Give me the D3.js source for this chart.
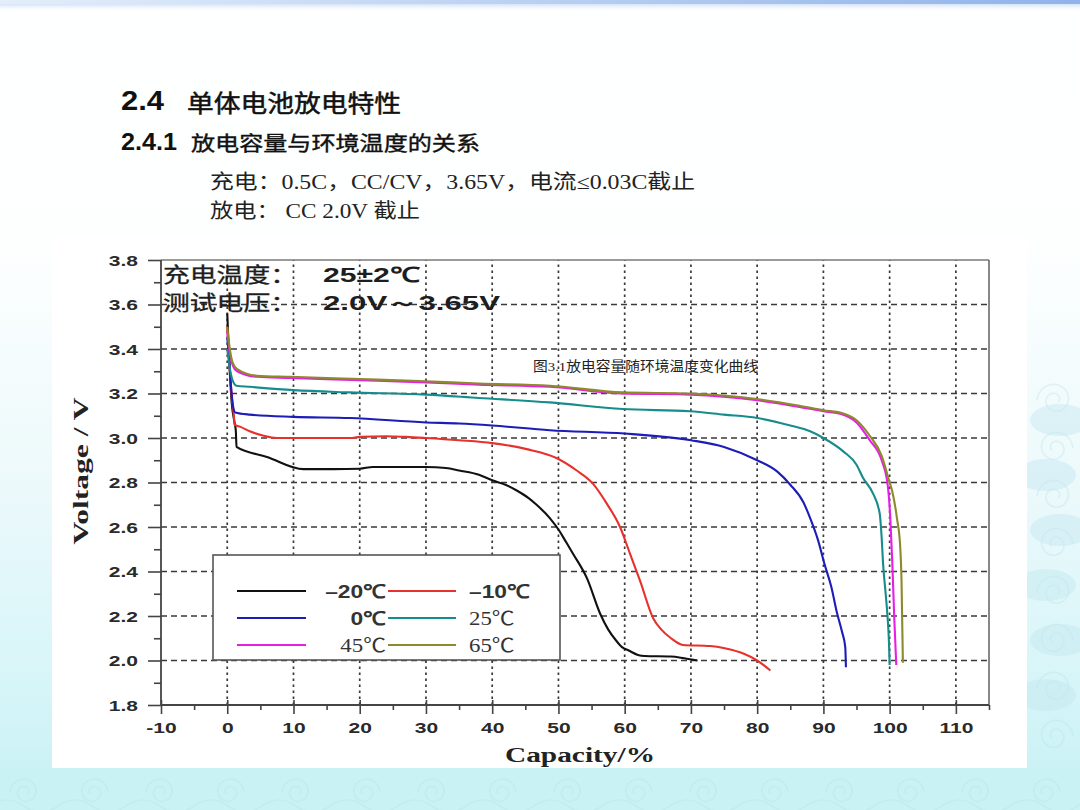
<!DOCTYPE html>
<html>
<head>
<meta charset="utf-8">
<script src="https://cdn.jsdelivr.net/npm/d3@7"></script>
<style>
  body { margin: 0; background: #fff; }
  svg { display: block; }
</style>
</head>
<body>
<svg id="slide" width="1080" height="810"></svg>
<script>
// ---- data ----
var temps = ["–20℃", "–10℃", "0℃", "25℃", "45℃", "65℃"];
var lineColors = ["#111111", "#e8312c", "#1c1cb8", "#178c8c", "#e61ee6", "#8c8a2a"];

// [capacity %, voltage V]
var curveM20 = [[0,3.56],[0.3,3.35],[0.7,3.15],[1.1,3.07],[1.3,3.03],[1.4,2.96],[6,2.915],[11.5,2.86],[16,2.86],[20,2.862],
  [22,2.87],[26,2.87],[30,2.87],[33,2.865],[35,2.854],[38,2.835],[40,2.81],[42,2.79],[43.7,2.764],[45.5,2.73],[46.7,2.70],
  [48.7,2.64],[50.2,2.58],[51,2.54],[52.2,2.48],[54.3,2.37],[56.3,2.21],[57.5,2.14],[58.7,2.09],[59.6,2.06],[60.6,2.045],
  [62,2.025],[63,2.02],[67,2.018],[69,2.01],[71,2.0]];
var curveM10 = [[0,3.50],[0.3,3.35],[0.7,3.18],[1.0,3.10],[1.1,3.06],[2,3.05],[3.4,3.03],[5.5,3.01],[7.5,3.0],[12,3.0],
  [18.5,3.0],[20,3.005],[24,3.008],[27,3.005],[30,3.0],[35,2.99],[40,2.977],[45.2,2.95],[49.7,2.91],[52.7,2.855],
  [55.2,2.795],[57.3,2.705],[59.3,2.60],[60.8,2.48],[62.3,2.36],[64.3,2.19],[65.5,2.14],[67,2.10],[68.8,2.07],[72.9,2.065],
  [75.1,2.055],[78,2.03],[80,2.0],[82,1.955]];
var curve0 = [[0,3.45],[0.3,3.35],[0.6,3.22],[0.9,3.14],[1.2,3.115],[3.4,3.105],[10,3.095],[18.5,3.09],[30,3.07],[35,3.065],
  [40,3.056],[48.7,3.035],[60,3.02],[70,2.99],[75,2.96],[80,2.90],[83,2.85],[85,2.79],[87,2.71],[88,2.64],[89.2,2.54],
  [90.2,2.43],[91.2,2.33],[92,2.22],[92.8,2.13],[93.3,2.06],[93.4,1.97]];
var curve25 = [[0,3.40],[0.3,3.33],[0.8,3.26],[1.4,3.235],[3.4,3.23],[10,3.215],[18.5,3.205],[30,3.195],[38,3.18],[48.7,3.16],
  [59.7,3.13],[69.8,3.12],[75,3.105],[80,3.09],[85,3.056],[88,3.03],[90,3.0],[93,2.94],[95,2.88],[96,2.82],[97.5,2.75],
  [98.5,2.66],[98.8,2.55],[99,2.44],[99.4,2.3],[99.7,2.19],[99.9,2.08],[100,1.98]];
var curve45 = [[0,3.48],[0.3,3.40],[0.8,3.33],[1.5,3.30],[4.5,3.275],[9.5,3.27],[20,3.26],[30,3.25],[38,3.24],[48.7,3.23],
  [59.7,3.20],[70,3.195],[80,3.17],[86.4,3.14],[90,3.12],[93,3.105],[95,3.07],[97,2.99],[98.8,2.90],[99.7,2.79],
  [100.1,2.64],[100.4,2.44],[100.7,2.19],[101,1.98]];
var curve65 = [[0,3.50],[0.3,3.42],[0.8,3.34],[1.5,3.31],[4.5,3.28],[9.5,3.275],[20,3.265],[30,3.255],[38,3.245],[48.7,3.235],
  [59.7,3.205],[70,3.20],[80,3.175],[86.4,3.145],[90,3.125],[93,3.11],[95,3.08],[97,3.01],[98.8,2.92],[100,2.80],
  [100.4,2.76],[101.1,2.64],[101.6,2.51],[101.8,2.35],[102,1.99]];
var curves = [curveM20, curveM10, curve0, curve25, curve45, curve65];

var xTicks = [-10, 0, 10, 20, 30, 40, 50, 60, 70, 80, 90, 100, 110];
var xMinor = [-5, 5, 15, 25, 35, 45, 55, 65, 75, 85, 95, 105, 115];
var yTicks = [1.8, 2.0, 2.2, 2.4, 2.6, 2.8, 3.0, 3.2, 3.4, 3.6, 3.8];
var yMinor = [1.9, 2.1, 2.3, 2.5, 2.7, 2.9, 3.1, 3.3, 3.5, 3.7];

var headLine1 = ["2.4", "单体电池放电特性"];
var headLine2 = ["2.4.1", "放电容量与环境温度的关系"];
var noteLines = ["充电：0.5C，CC/CV，3.65V，电流≤0.03C截止", "放电： CC 2.0V 截止"];
var chartNotes = [["充电温度：", "25±2℃"], ["测试电压：", "2.0V～3.65V"]];
var caption = "图3.1放电容量随环境温度变化曲线";

var W = 1080, H = 810;
var SANS = "'Liberation Sans', Arial, sans-serif";
var SERIF = "'Liberation Serif', 'Times New Roman', 'Noto Sans CJK SC', serif";
var CJK = "'Noto Sans CJK SC', 'Noto Sans', sans-serif";

var svg = d3.select("#slide");
var defs = svg.append("defs");

// stretch a text horizontally by factor k (the source figure has wide glyphs)
function stretch(sel, k) {
  sel.each(function() {
    var len = this.getComputedTextLength();
    d3.select(this).attr("textLength", len * k).attr("lengthAdjust", "spacingAndGlyphs");
  });
}

// ---- slide background ----
var bg = defs.append("linearGradient").attr("id", "bgGrad")
  .attr("x1", 0).attr("y1", 0).attr("x2", 0).attr("y2", 1);
[[0, "#ffffff"], [0.3, "#fdffff"], [0.6, "#ecf9fb"], [0.85, "#d6f5f8"], [1, "#c6f0f4"]]
  .forEach(function(s) { bg.append("stop").attr("offset", s[0]).attr("stop-color", s[1]); });
svg.append("rect").attr("width", W).attr("height", H).attr("fill", "url(#bgGrad)");

var topGrad = defs.append("linearGradient").attr("id", "topGrad")
  .attr("x1", 0).attr("y1", 0).attr("x2", 1).attr("y2", 0);
topGrad.append("stop").attr("offset", 0).attr("stop-color", "#e4eefa");
topGrad.append("stop").attr("offset", 0.5).attr("stop-color", "#b9d0f2");
topGrad.append("stop").attr("offset", 1).attr("stop-color", "#8fb3ea");
svg.append("rect").attr("x", 0).attr("y", 0).attr("width", W).attr("height", 4).attr("fill", "url(#topGrad)");
var fadeGrad = defs.append("linearGradient").attr("id", "fadeGrad")
  .attr("x1", 0).attr("y1", 0).attr("x2", 0).attr("y2", 1);
fadeGrad.append("stop").attr("offset", 0).attr("stop-color", "#d4e3f7");
fadeGrad.append("stop").attr("offset", 1).attr("stop-color", "#ffffff").attr("stop-opacity", 0);
svg.append("rect").attr("x", 0).attr("y", 4).attr("width", W).attr("height", 8).attr("fill", "url(#fadeGrad)");

// bottom wave strip and soft wave decoration on the right
svg.append("rect").attr("x", 0).attr("y", 768).attr("width", W).attr("height", H - 768).attr("fill", "#c9f2f5");
var swirl = d3.line().curve(d3.curveBasis);
function swirlPts(cx, cy, r, dir) {
  return d3.range(0, 40).map(function(i) {
    var t = i / 39 * Math.PI * 3.2;
    var rr = r * (1 - t / (Math.PI * 4));
    return [cx + dir * rr * Math.cos(t), cy - rr * Math.sin(t)];
  });
}
var deco = svg.append("g").attr("fill", "none").attr("stroke", "#b4e4ec").attr("stroke-width", 1.6).attr("opacity", 0.35);
d3.range(0, 17).forEach(function(i) {
  deco.append("path").attr("d", swirl(swirlPts(25 + i * 68, 792, 15, i % 2 ? 1 : -1)));
  deco.append("path").attr("d", "M" + (i * 68 - 10) + ",806 q17,-12 34,0 t34,0");
});
var blobs = svg.append("g").attr("fill", "#c3e8f0").attr("opacity", 0.45);
d3.range(0, 6).forEach(function(j) {
  blobs.append("ellipse").attr("cx", 1060 - (j % 2) * 14).attr("cy", 420 + j * 55)
    .attr("rx", 30).attr("ry", 16);
});
d3.range(0, 8).forEach(function(j) {
  deco.append("path").attr("d", swirl(swirlPts(1055, 400 + j * 48, 18, j % 2 ? 1 : -1)));
});

// white panel behind the chart
svg.append("rect").attr("x", 52).attr("y", 237).attr("width", 975).attr("height", 531).attr("fill", "#ffffff");

// ---- slide headings ----
var head = svg.append("g").attr("fill", "#111");
head.append("text").attr("x", 121).attr("y", 110).attr("font-family", SANS).attr("font-weight", "bold")
  .attr("font-size", 28).attr("textLength", 43).attr("lengthAdjust", "spacingAndGlyphs").text(headLine1[0]);
head.append("text").attr("x", 187).attr("y", 112).attr("font-family", CJK).attr("font-size", 24)
  .attr("stroke", "#111").attr("stroke-width", 0.5)
  .attr("textLength", 214).attr("lengthAdjust", "spacingAndGlyphs").text(headLine1[1]);
head.append("text").attr("x", 121).attr("y", 150).attr("font-family", SANS).attr("font-weight", "bold")
  .attr("font-size", 23).attr("textLength", 56).attr("lengthAdjust", "spacingAndGlyphs").text(headLine2[0]);
head.append("text").attr("x", 191).attr("y", 151).attr("font-family", CJK).attr("font-size", 20)
  .attr("stroke", "#111").attr("stroke-width", 0.4)
  .attr("textLength", 289).attr("lengthAdjust", "spacingAndGlyphs").text(headLine2[1]);
head.append("text").attr("x", 210).attr("y", 189).attr("font-family", SERIF).attr("font-size", 20).attr("fill", "#222")
  .attr("textLength", 485).attr("lengthAdjust", "spacingAndGlyphs").text(noteLines[0]);
head.append("text").attr("x", 210).attr("y", 218).attr("font-family", SERIF).attr("font-size", 20).attr("fill", "#222")
  .attr("textLength", 210).attr("lengthAdjust", "spacingAndGlyphs").text(noteLines[1]);

// ---- chart ----
var x = d3.scaleLinear().domain([-10, 115]).range([161, 989]);
var y = d3.scaleLinear().domain([1.8, 3.8]).range([705, 260]);

var grid = svg.append("g").attr("stroke", "#3a3a3a").attr("fill", "none");
grid.selectAll("line.vg").data(xTicks.filter(function(v) { return v > -10; })).enter().append("line")
  .attr("class", "vg")
  .attr("x1", function(d) { return x(d); }).attr("x2", function(d) { return x(d); })
  .attr("y1", y(1.8)).attr("y2", y(3.8))
  .attr("stroke-width", 1.7).attr("stroke-dasharray", "2.5,3.5");
grid.selectAll("line.hg").data(yTicks.filter(function(v) { return v > 1.9 && v < 3.7; })).enter().append("line")
  .attr("class", "hg")
  .attr("x1", x(-10)).attr("x2", x(115))
  .attr("y1", function(d) { return y(d); }).attr("y2", function(d) { return y(d); })
  .attr("stroke-width", 1.4).attr("stroke-dasharray", "6,4");

// frame top and right
svg.append("line").attr("x1", x(-10)).attr("x2", x(115)).attr("y1", y(3.8)).attr("y2", y(3.8))
  .attr("stroke", "#7a7a7a").attr("stroke-width", 1.6);
svg.append("line").attr("x1", x(115)).attr("x2", x(115)).attr("y1", y(3.8)).attr("y2", y(1.8))
  .attr("stroke", "#6a6a6a").attr("stroke-width", 1.6);

// chart notes in the upper left corner
var notes = svg.append("g").attr("fill", "#1e1e1e");
chartNotes.forEach(function(n, i) {
  var by = 282 + i * 28;
  notes.append("text").attr("x", 163).attr("y", by).attr("font-family", CJK).attr("font-size", 21)
    .attr("stroke", "#1e1e1e").attr("stroke-width", 0.3)
    .attr("textLength", 134).attr("lengthAdjust", "spacingAndGlyphs").text(n[0]);
  notes.append("text").attr("x", 323).attr("y", by).attr("font-family", SANS).attr("font-weight", "bold")
    .attr("font-size", 21).attr("textLength", i === 0 ? 97 : 177).attr("lengthAdjust", "spacingAndGlyphs").text(n[1]);
});

svg.append("text").attr("x", 533).attr("y", 371).attr("font-family", SERIF).attr("font-size", 13.5)
  .attr("fill", "#222").attr("textLength", 225).attr("lengthAdjust", "spacingAndGlyphs").text(caption);

// curves
var line = d3.line().curve(d3.curveMonotoneX)
  .x(function(d) { return x(d[0]); }).y(function(d) { return y(d[1]); });
svg.append("g").attr("fill", "none").attr("stroke-width", 2.1).attr("stroke-linejoin", "round")
  .selectAll("path").data(curves).enter().append("path")
  .attr("stroke", function(d, i) { return lineColors[i]; })
  .attr("d", line);

// axes
var yAxis = svg.append("g").attr("transform", "translate(" + x(-10) + ",0)")
  .call(d3.axisLeft(y).tickValues(yTicks).tickSize(13).tickFormat(function(d) { return d.toFixed(1); }));
svg.append("g").attr("transform", "translate(" + x(-10) + ",0)")
  .call(d3.axisLeft(y).tickValues(yMinor).tickSize(7).tickFormat(""));
var xAxis = svg.append("g").attr("transform", "translate(0," + y(1.8) + ")")
  .call(d3.axisBottom(x).tickValues(xTicks).tickSize(9).tickFormat(function(d) { return String(d); }));
xAxis.selectAll(".tick line").attr("y1", -5);
svg.append("g").attr("transform", "translate(0," + y(1.8) + ")")
  .call(d3.axisBottom(x).tickValues(xMinor).tickSize(5).tickFormat(""));

svg.selectAll(".domain").remove();
svg.selectAll(".tick line").attr("stroke", "#444").attr("stroke-width", 1.6);
svg.append("line").attr("x1", x(-10)).attr("x2", x(-10)).attr("y1", y(3.8)).attr("y2", y(1.8))
  .attr("stroke", "#444").attr("stroke-width", 1.8);
svg.append("line").attr("x1", x(-10)).attr("x2", x(115)).attr("y1", y(1.8)).attr("y2", y(1.8))
  .attr("stroke", "#444").attr("stroke-width", 1.8);

yAxis.selectAll("text").attr("x", -23).attr("dy", "0.36em");
xAxis.selectAll("text").attr("y", 23).attr("dy", "0.36em");
var tickText = svg.selectAll(".tick text")
  .attr("font-family", SANS).attr("font-weight", "bold").attr("font-size", 14).attr("fill", "#2a2a2a");
stretch(tickText, 1.5);

// axis titles
svg.append("text").attr("transform", "translate(88,471) rotate(-90)").attr("text-anchor", "middle")
  .attr("font-family", SERIF).attr("font-weight", "bold").attr("font-size", 22).attr("fill", "#222")
  .attr("textLength", 147).attr("lengthAdjust", "spacingAndGlyphs").text("Voltage / V");
svg.append("text").attr("x", 580).attr("y", 762).attr("text-anchor", "middle")
  .attr("font-family", SERIF).attr("font-weight", "bold").attr("font-size", 20).attr("fill", "#222")
  .attr("textLength", 150).attr("lengthAdjust", "spacingAndGlyphs").text("Capacity/%");

// legend
var legend = svg.append("g");
legend.append("rect").attr("x", 213).attr("y", 555).attr("width", 347).attr("height", 105)
  .attr("fill", "#fff").attr("stroke", "#555").attr("stroke-width", 1.6);
var item = legend.selectAll("g.item").data(temps).enter().append("g").attr("class", "item")
  .attr("transform", function(d, i) { return "translate(0," + (591 + Math.floor(i / 2) * 27) + ")"; });
item.append("line")
  .attr("x1", function(d, i) { return i % 2 ? 388 : 237; })
  .attr("x2", function(d, i) { return i % 2 ? 456 : 306; })
  .attr("stroke", function(d, i) { return lineColors[i]; }).attr("stroke-width", 2.2);
var labels = item.append("text")
  .attr("x", function(d, i) { return i % 2 ? 469 : 386; })
  .attr("y", 7)
  .attr("text-anchor", function(d, i) { return i % 2 ? "start" : "end"; })
  .attr("font-family", function(d, i) { return i < 3 ? SANS : SERIF; })
  .attr("font-weight", function(d, i) { return i < 3 ? "bold" : "normal"; })
  .attr("font-size", 19).attr("fill", "#333")
  .text(function(d) { return d; });
stretch(labels, 1.2);
</script>
</body>
</html>
